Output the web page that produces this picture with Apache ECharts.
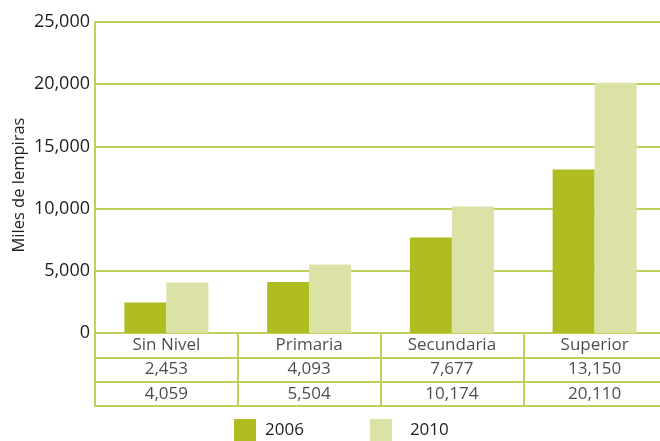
<!DOCTYPE html>
<html>
<head>
<meta charset="utf-8">
<script src="https://cdn.jsdelivr.net/npm/echarts@6/dist/echarts.min.js"></script>
<style>
    html, body {margin: 0; padding: 0; background: #fff;}
    #mychart {width: 660px; height: 441px;}
</style>
</head>
<body>
<div id="mychart"></div>
<script>
// datos
var niveles = ['Sin Nivel', 'Primaria', 'Secundaria', 'Superior'];
var anios = ['2006', '2010'];
var v2006 = [2453, 4093, 7677, 13150];
var v2010 = [4059, 5504, 10174, 20110];
var yTicks = [0, 5000, 10000, 15000, 20000, 25000];

var lineColor = '#c3cf5c';
var textColor = '#1e1e1e';
var fuente = '"Open Sans", "Noto Sans", sans-serif';

function fmt(v) {
    return v.toLocaleString('en-US');
}

// celdas de la tabla: [nivel, fila, texto]
var filas = ['nombre', anios[0], anios[1]];
var celdas = [];
for (var i = 0; i < niveles.length; i++) {
    celdas.push([niveles[i], filas[0], niveles[i]]);
    celdas.push([niveles[i], filas[1], fmt(v2006[i])]);
    celdas.push([niveles[i], filas[2], fmt(v2010[i])]);
}

var option = {
    animation: false,
    textStyle: {fontFamily: fuente},
    grid: [
        {left: 95, top: 22, width: 571, height: 311, outerBoundsMode: 'none'},
        {left: 95, top: 333, width: 571, height: 73, outerBoundsMode: 'none',
            show: true, borderColor: lineColor, borderWidth: 2, backgroundColor: 'transparent'}
    ],
    legend: {
        left: 229,
        top: 414,
        icon: 'rect',
        itemWidth: 22,
        itemHeight: 22,
        itemGap: 66,
        textStyle: {fontSize: 17, color: textColor, fontFamily: fuente, lineHeight: 22},
        data: [
            {name: anios[0], textStyle: {padding: [0, 0, 0, 4]}},
            {name: anios[1], textStyle: {padding: [0, 0, 0, 13]}}
        ]
    },
    graphic: [
        {
            type: 'text',
            x: 19,
            y: 185,
            rotation: Math.PI / 2,
            style: {
                text: 'Miles de lempiras',
                fontSize: 16.5,
                fontFamily: fuente,
                fill: textColor,
                align: 'center',
                verticalAlign: 'middle'
            }
        }
    ],
    xAxis: [
        {
            type: 'category',
            gridIndex: 0,
            data: niveles,
            axisLine: {show: false},
            axisTick: {show: false},
            axisLabel: {show: false}
        },
        {
            type: 'category',
            gridIndex: 1,
            data: niveles,
            axisLine: {show: false},
            axisTick: {show: false},
            axisLabel: {show: false},
            splitLine: {show: true, lineStyle: {color: lineColor, width: 2}}
        }
    ],
    yAxis: [
        {
            type: 'value',
            gridIndex: 0,
            min: yTicks[0],
            max: yTicks[yTicks.length - 1],
            interval: 5000,
            axisLine: {show: true, lineStyle: {color: lineColor, width: 2}},
            axisTick: {show: false},
            axisLabel: {
                fontSize: 18,
                color: textColor,
                margin: 5,
                fontFamily: fuente,
                formatter: function (v) { return fmt(v); }
            },
            splitLine: {show: true, lineStyle: {color: lineColor, width: 2}}
        },
        {
            type: 'category',
            gridIndex: 1,
            data: filas,
            inverse: true,
            axisLine: {show: false},
            axisTick: {show: false},
            axisLabel: {show: false},
            splitLine: {show: true, lineStyle: {color: lineColor, width: 2}}
        }
    ],
    series: [
        {
            name: anios[0],
            type: 'bar',
            xAxisIndex: 0,
            yAxisIndex: 0,
            data: v2006,
            barWidth: 42,
            barGap: '0%',
            itemStyle: {color: '#afbd22'}
        },
        {
            name: anios[1],
            type: 'bar',
            xAxisIndex: 0,
            yAxisIndex: 0,
            data: v2010,
            barWidth: 42,
            barGap: '0%',
            itemStyle: {color: '#dce2a5'}
        },
        {
            name: 'tabla',
            type: 'scatter',
            xAxisIndex: 1,
            yAxisIndex: 1,
            symbolSize: 0,
            data: celdas,
            encode: {x: 0, y: 1},
            label: {
                show: true,
                position: 'inside',
                fontSize: 17,
                color: textColor,
                fontFamily: fuente,
                formatter: function (p) { return p.value[2]; }
            },
            silent: true
        }
    ]
};

var mychart = echarts.init(document.getElementById('mychart'));
mychart.setOption(option);
</script>
</body>
</html>
